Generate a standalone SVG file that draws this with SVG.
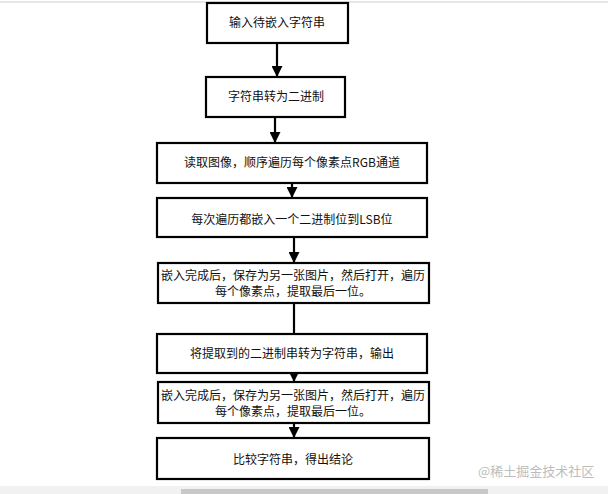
<svg xmlns="http://www.w3.org/2000/svg" width="608" height="494" viewBox="0 0 608 494">
<style>
.box{fill:#fff;stroke:#000;stroke-width:2.2}
.t{font-family:"Noto Sans CJK SC","Liberation Sans",sans-serif;font-size:12px;fill:#111;text-anchor:middle}
.c{stroke:#000;stroke-width:2.2;fill:none}
.wm{font-family:"Noto Sans CJK SC",sans-serif;font-size:13px;fill:#bdbdbd}
</style>
<defs>
<marker id="ah" viewBox="0 0 10 10" refX="10" refY="5" markerWidth="5" markerHeight="5" orient="auto" markerUnits="strokeWidth">
<path d="M0,0 L10,5 L0,10 z" fill="#000"/>
</marker>
</defs>
<rect x="0" y="0" width="608" height="494" fill="#fff"/>
<line x1="0" y1="2" x2="608" y2="2" stroke="#e6e6e6" stroke-width="2"/>
<g id="connectors">
<line class="c" x1="277" y1="43" x2="277" y2="77" marker-end="url(#ah)"/>
<line class="c" x1="275" y1="117" x2="275" y2="143" marker-end="url(#ah)"/>
<line class="c" x1="292" y1="183" x2="292" y2="198" marker-end="url(#ah)"/>
<line class="c" x1="294" y1="237" x2="294" y2="263" marker-end="url(#ah)"/>
<line class="c" x1="294" y1="303" x2="294" y2="334"/>
<line class="c" x1="294" y1="373" x2="294" y2="382" marker-end="url(#ah)"/>
<line class="c" x1="294" y1="423" x2="294" y2="438" marker-end="url(#ah)"/>
</g>
<g id="n1"><rect class="box" x="207" y="3" width="141" height="40"/><text class="t" x="277" y="27">输入待嵌入字符串</text></g>
<g id="n2"><rect class="box" x="206" y="77" width="139" height="40"/><text class="t" x="276" y="101">字符串转为二进制</text></g>
<g id="n3"><rect class="box" x="157" y="143" width="270" height="40"/><text class="t" x="292" y="167">读取图像，顺序遍历每个像素点RGB通道</text></g>
<g id="n4"><rect class="box" x="157" y="198" width="270" height="39"/><text class="t" x="292" y="224">每次遍历都嵌入一个二进制位到LSB位</text></g>
<g id="n5"><rect class="box" x="158" y="263" width="271" height="40"/><text class="t" x="293" y="280">嵌入完成后，保存为另一张图片，然后打开，遍历</text><text class="t" x="293" y="296">每个像素点，提取最后一位。</text></g>
<g id="n6"><rect class="box" x="157" y="334" width="270" height="39"/><text class="t" x="292" y="358">将提取到的二进制串转为字符串，输出</text></g>
<g id="n7"><rect class="box" x="158" y="382" width="271" height="41"/><text class="t" x="293" y="400">嵌入完成后，保存为另一张图片，然后打开，遍历</text><text class="t" x="293" y="416">每个像素点，提取最后一位。</text></g>
<g id="n8"><rect class="box" x="157" y="438" width="272" height="41"/><text class="t" x="293" y="464">比较字符串，得出结论</text></g>
<text class="wm" x="478" y="476">@稀土掘金技术社区</text>
<rect x="0" y="486" width="608" height="8" fill="#f1f1f1"/>
<rect x="181" y="489" width="307" height="5" fill="#c8c8c8"/>
</svg>
